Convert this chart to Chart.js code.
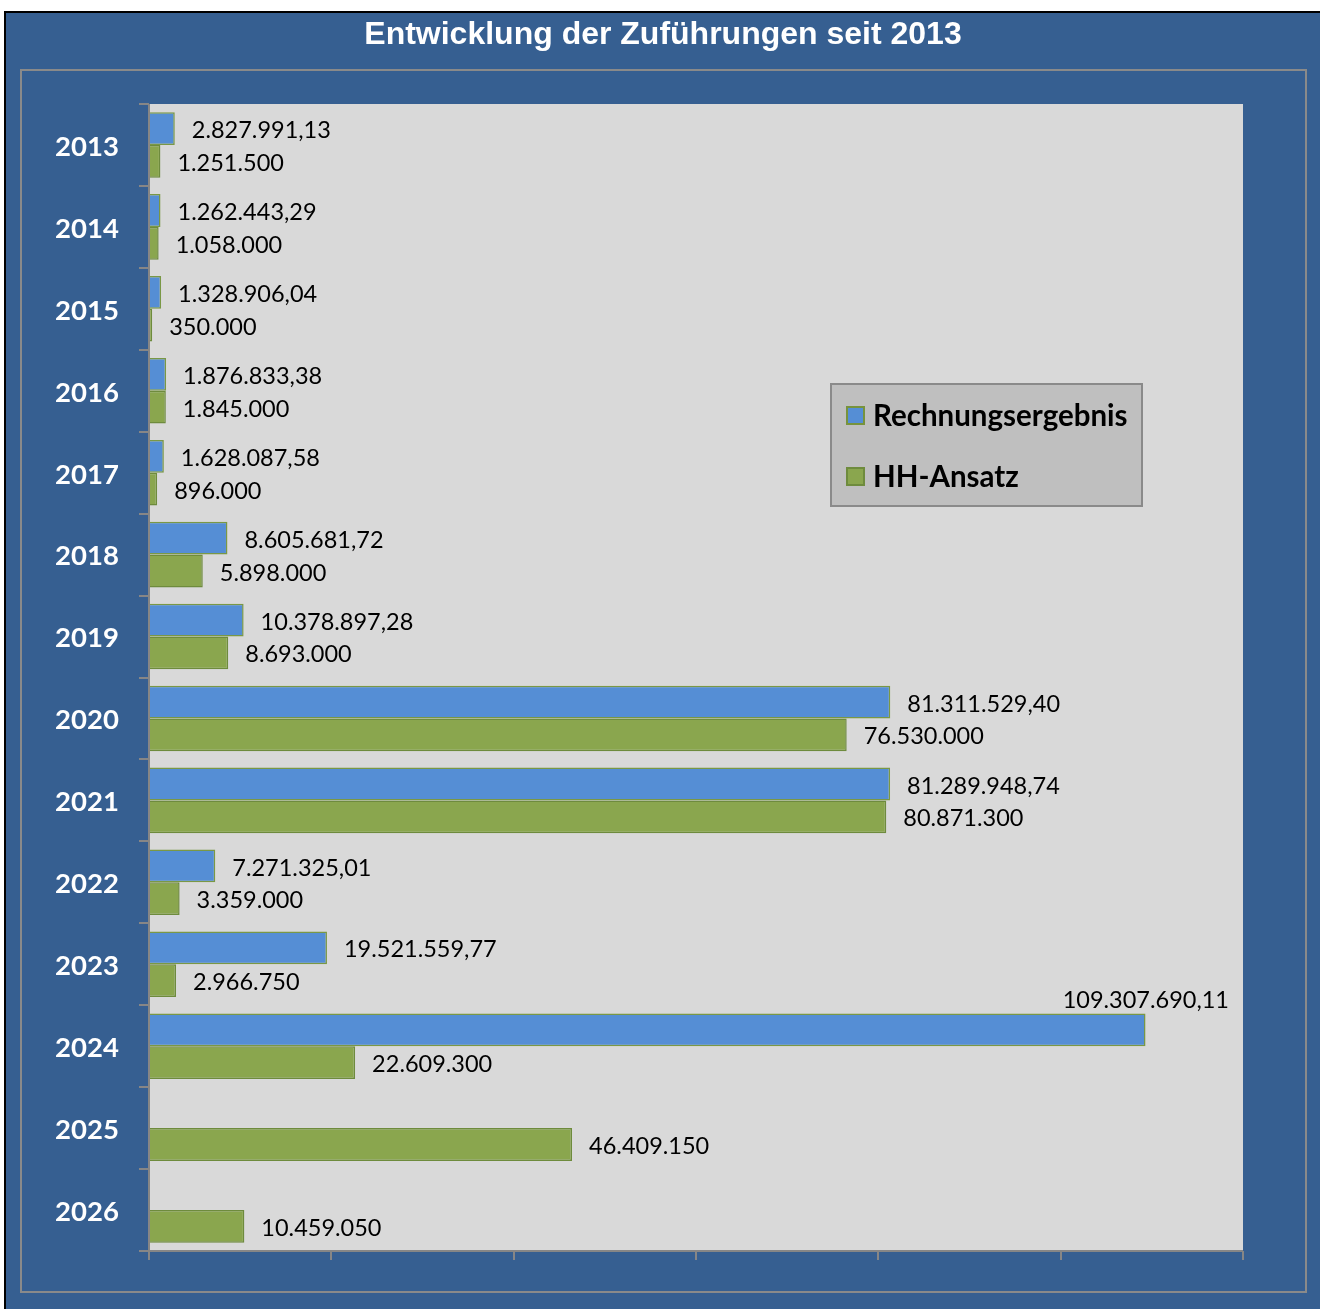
<!DOCTYPE html>
<html><head><meta charset="utf-8">
<script src="https://cdn.jsdelivr.net/npm/chart.js@4"></script>
<style>html,body{margin:0;padding:0;background:#fff;}canvas{display:block;}</style>
</head><body>
<div style="width:1320px;height:1309px;position:relative"><canvas id="c" width="1320" height="1309"></canvas></div>
<script>
const years = ['2013','2014','2015','2016','2017','2018','2019','2020','2021','2022','2023','2024','2025','2026'];
const rechnungsergebnis = [2827991.13,1262443.29,1328906.04,1876833.38,1628087.58,8605681.72,10378897.28,81311529.40,81289948.74,7271325.01,19521559.77,109307690.11,null,null];
const hhAnsatz = [1251500,1058000,350000,1845000,896000,5898000,8693000,76530000,80871300,3359000,2966750,22609300,46409150,10459050];
const seriesNames = ['Rechnungsergebnis','HH-Ansatz'];
const chartTitle = 'Entwicklung der Zuführungen seit 2013';
const xMax = 120000000, xStep = 20000000;

const fmtDec = v => v.toLocaleString('de-DE',{minimumFractionDigits:2,maximumFractionDigits:2});
const fmtInt = v => v.toLocaleString('de-DE',{maximumFractionDigits:0});

const decor = {
  id:'decor',
  beforeDraw(chart){
    const ctx=chart.ctx, a=chart.chartArea;
    ctx.save();
    ctx.fillStyle='#fff'; ctx.fillRect(0,0,1320,1309);
    ctx.fillStyle='#000'; ctx.fillRect(4,11,1316,1298);
    ctx.fillStyle='#365F91'; ctx.fillRect(6,13,1314,1296);
    ctx.strokeStyle='#8a8a8a'; ctx.lineWidth=2;
    ctx.strokeRect(21,70,1285,1222);
    ctx.fillStyle='#D9D9D9'; ctx.fillRect(a.left,a.top,a.right-a.left,a.bottom-a.top);
    ctx.fillStyle='#fff'; ctx.font='bold 32px "Liberation Sans", Arial, sans-serif';
    ctx.textAlign='center'; ctx.textBaseline='middle';
    ctx.fillText(chartTitle,663,35);
    ctx.restore();
  },
  afterDatasetsDraw(chart){
    const ctx=chart.ctx, a=chart.chartArea, xs=chart.scales.x, ys=chart.scales.y;
    ctx.save();
    // axes
    ctx.strokeStyle='#868686'; ctx.lineWidth=2;
    ctx.beginPath(); ctx.moveTo(a.left,a.top); ctx.lineTo(a.left,a.bottom); ctx.lineTo(a.right,a.bottom); ctx.stroke();
    ctx.beginPath();
    const n=years.length;
    for(let i=0;i<=n;i++){
      const y = i<n ? ys.getPixelForTick(i) - (ys.getPixelForTick(1)-ys.getPixelForTick(0))/2 : a.bottom;
      ctx.moveTo(a.left-10,Math.round(y)); ctx.lineTo(a.left,Math.round(y));
    }
    for(let v=0;v<=xMax;v+=xStep){
      const x=Math.round(xs.getPixelForValue(v));
      ctx.moveTo(x,a.bottom); ctx.lineTo(x,a.bottom+9);
    }
    ctx.stroke();
    // y labels
    ctx.fillStyle='#fff'; ctx.font='bold 27.5px Lato, sans-serif';
    ctx.textAlign='center'; ctx.textBaseline='middle';
    years.forEach((yr,i)=>ctx.fillText(yr,87,ys.getPixelForTick(i)+2));
    // data labels
    ctx.fillStyle='#000'; ctx.font='23.5px Lato, sans-serif'; ctx.textBaseline='middle';
    chart.data.datasets.forEach((ds,di)=>{
      const meta=chart.getDatasetMeta(di);
      meta.data.forEach((bar,i)=>{
        const v=ds.data[i]; if(v==null) return;
        const txt = di===0 ? fmtDec(v) : fmtInt(v);
        const w=ctx.measureText(txt).width;
        if(bar.x+17+w > a.right){
          ctx.textAlign='right';
          ctx.fillText(txt,a.right-14,bar.y-bar.height/2-13);
        } else {
          ctx.textAlign='left';
          ctx.fillText(txt,bar.x+17,bar.y+2);
        }
      });
    });
    // legend
    ctx.fillStyle='#BFBFBF'; ctx.fillRect(831,384,311,122);
    ctx.strokeStyle='#8a8a8a'; ctx.lineWidth=2; ctx.strokeRect(831,384,311,122);
    const cols=[['#558ED5','#77933C'],['#8AA64E','#6E8B3D']];
    const ly=[415,476];
    ctx.font='bold 29.5px Lato, sans-serif'; ctx.textAlign='left';
    seriesNames.forEach((s,k)=>{
      ctx.fillStyle=cols[k][0]; ctx.fillRect(847,ly[k]-8,17,17);
      ctx.strokeStyle=cols[k][1]; ctx.lineWidth=2; ctx.strokeRect(847,ly[k]-8,17,17);
      ctx.fillStyle='#000'; ctx.fillText(s,873,ly[k]+1);
    });
    ctx.restore();
  }
};

new Chart(document.getElementById('c'),{
  type:'bar',
  data:{labels:years,datasets:[
    {label:seriesNames[0],data:rechnungsergebnis,backgroundColor:'#558ED5',borderColor:'#7A9845',borderWidth:1.5,categoryPercentage:0.8,barPercentage:1.0},
    {label:seriesNames[1],data:hhAnsatz,backgroundColor:'#8AA64E',borderColor:'#6E8B3D',borderWidth:1.5,categoryPercentage:0.8,barPercentage:1.0}
  ]},
  options:{
    indexAxis:'y',responsive:false,animation:false,
    layout:{padding:{left:149,right:77,top:104,bottom:58}},
    plugins:{legend:{display:false},title:{display:false},tooltip:{enabled:false}},
    scales:{
      x:{display:false,min:0,max:xMax,ticks:{stepSize:xStep}},
      y:{display:false,offset:true}
    }
  },
  plugins:[decor]
});
</script>
</body></html>
